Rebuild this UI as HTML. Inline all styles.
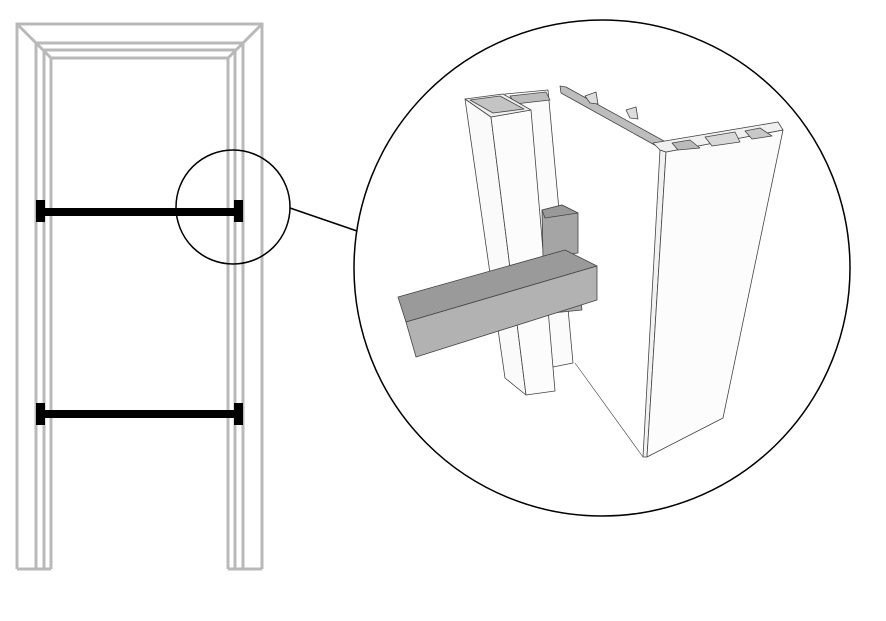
<!DOCTYPE html>
<html><head><meta charset="utf-8"><style>
html,body{margin:0;padding:0;background:#fff;width:886px;height:621px;overflow:hidden}
svg{display:block}
</style></head><body>
<svg width="886" height="621" viewBox="0 0 886 621" xmlns="http://www.w3.org/2000/svg">
<g fill="none" stroke="#b9b9b9" stroke-width="3">
  <path d="M17,569 V24 H262 V569"/>
  <path d="M36,569 V43 H243 V569"/>
  <path d="M44,569 V50 H235 V569"/>
  <path d="M51,569 V58 H228 V569"/>
  <path d="M17,569 H51 M228,569 H262"/>
  <path d="M17,24 L36,43 L51,58 M262,24 L243,43 L228,58"/>
</g>
<g fill="#000">
  <rect x="44" y="208" width="191" height="8"/>
  <rect x="36" y="200" width="9" height="22"/>
  <rect x="234" y="200" width="9" height="22"/>
  <rect x="44" y="410" width="191" height="8"/>
  <rect x="36" y="403" width="9" height="22"/>
  <rect x="234" y="403" width="9" height="22"/>
</g>
<circle cx="233" cy="207" r="57" fill="none" stroke="#000" stroke-width="1.5"/>
<line x1="290" y1="208" x2="357" y2="231" stroke="#000" stroke-width="1.5"/>
<circle cx="602" cy="268" r="248" fill="none" stroke="#000" stroke-width="1.5"/>
<g stroke="#444" stroke-width="0.8" stroke-linejoin="round">
  <polygon points="505,94 548,90 573,363 553,367" fill="#fbfbfb"/>
  <polygon points="510,96 546,92 550,100 515,104" fill="#bcbcbc"/>
  <polygon points="465,99 491,117 526,395 505,378" fill="#fafafa"/>
  <polygon points="491,117 531,110 555,391 526,395" fill="#fcfcfc"/>
  <polygon points="465,99 503,94 531,110 491,117" fill="#f0f0f0"/>
  <polygon points="470,100 500,96 524,109 493,113" fill="#c4c4c4"/>
  <polygon points="542,210 562,205 578,213 578,253 543,258" fill="#a5a5a5"/>
  <polygon points="542,210 562,205 578,213 545,218" fill="#999"/>
  <polygon points="550,307 581,302 582,310 552,313" fill="#aaa"/>
  <polygon points="398,297 565,250 597,266 406,322" fill="#9a9a9a"/>
  <polygon points="406,322 597,266 597,300 416,357" fill="#b2b2b2"/>
  <polygon points="560,86 566,87 664,141 660,148 561,93" fill="#bdbdbd"/>
  <polygon points="585,96 596,92 598,104 590,103" fill="#ddd"/>
  <polygon points="626,110 636,107 638,119 630,118" fill="#ddd"/>
  <line x1="575" y1="363" x2="643" y2="457" stroke-width="0.6"/>
  <polygon points="660,150 666,152 647,457 643,457" fill="#f2f2f2"/>
  <polygon points="666,152 783,130 723,418 647,457" fill="#fcfcfc"/>
  <polygon points="653,143 778,122 783,130 666,152 660,150" fill="#f0f0f0"/>
  <polygon points="672,143 690,140 700,148 678,150" fill="#bbb"/>
  <polygon points="705,137 735,132 740,142 712,146" fill="#d8d8d8"/>
  <polygon points="745,131 760,128 772,136 752,139" fill="#c8c8c8"/>
</g>
</svg>
</body></html>
